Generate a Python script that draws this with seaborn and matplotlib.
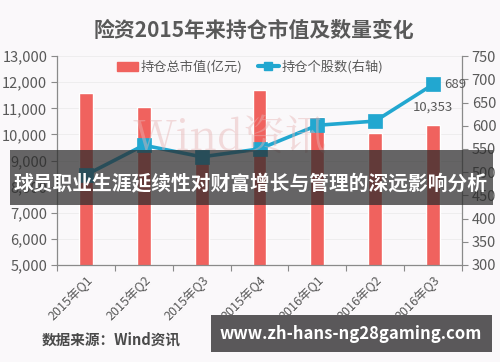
import matplotlib
matplotlib.use("Agg")
import matplotlib.pyplot as plt
import seaborn as sns
import numpy as np
import pandas as pd
from matplotlib.patches import Rectangle
from matplotlib.lines import Line2D
from matplotlib.ticker import FuncFormatter, MultipleLocator

quarters = ["2015年Q1", "2015年Q2", "2015年Q3", "2015年Q4", "2016年Q1", "2016年Q2", "2016年Q3"]
market_value = [11580, 11060, 9000, 11720, 10660, 10050, 10353]
stock_count = [494, 558, 533, 550, 601, 610, 689]

title = "险资2015年来持仓市值及数量变化"
legend_bar = "持仓总市值(亿元)"
legend_line = "持仓个股数(右轴)"
banner_text = "球员职业生涯延续性对财富增长与管理的深远影响分析"
source_text = "数据来源：Wind资讯"
site_text = "www.zh-hans-ng28gaming.com"
watermark = "Wind资讯"

sns.set_theme(style="white")
plt.rcParams['font.family'] = ['Noto Sans CJK SC', 'DejaVu Sans']

bg = "#faf8fa"
bar_color = "#f0625e"
line_color = "#22a7d0"
grey = "#595959"

fig = plt.figure(figsize=(5.0, 3.62), dpi=100)
fig.patch.set_facecolor(bg)
ax = fig.add_axes([0.114, 0.268, 0.81, 0.577])
ax.set_facecolor(bg)

df = pd.DataFrame({"q": quarters, "mv": market_value, "n": stock_count})
sns.barplot(data=df, x="q", y="mv", color=bar_color, width=0.24, ax=ax, saturation=1)
ax.set_ylim(5000, 13000)
ax.yaxis.set_major_locator(MultipleLocator(1000))
ax.yaxis.set_major_formatter(FuncFormatter(lambda v, p: f"{int(v):,}"))
ax.grid(axis="y", color="#ececec", linewidth=0.6)
ax.set_axisbelow(True)

ax2 = ax.twinx()
sns.pointplot(data=df, x="q", y="n", color=line_color, markers="s", ax=ax2,
              linewidth=2.6, markersize=8)
ax2.set_ylim(300, 750)
ax2.yaxis.set_major_locator(MultipleLocator(50))

for a in (ax, ax2):
    a.set_xlabel("")
    a.set_ylabel("")
    for s in a.spines.values():
        s.set_visible(False)
ax.spines["left"].set_visible(True)
ax.spines["bottom"].set_visible(True)
ax2.spines["right"].set_visible(True)
for s in (ax.spines["left"], ax.spines["bottom"], ax2.spines["right"]):
    s.set_color("#8a8a8a")
    s.set_linewidth(0.9)

ax.tick_params(axis="y", labelsize=10.5, labelcolor=grey, color="#8a8a8a", length=4, width=0.8, left=True, pad=3)
ax2.tick_params(axis="y", labelsize=10.5, labelcolor=grey, color="#8a8a8a", length=4, width=0.8, right=True, pad=3)
ax.set_xticks(range(len(quarters)))
ax.set_xticklabels(quarters, rotation=45, ha="right", rotation_mode="anchor", fontsize=9, color=grey)
ax.tick_params(axis="x", which="major", length=0, pad=6)
ax.set_xticks(np.arange(len(quarters) + 1) - 0.5, minor=True)
ax.tick_params(axis="x", which="minor", bottom=True, length=4, width=0.8, color="#8a8a8a")
ax.set_xlim(-0.5, len(quarters) - 0.5)

# annotations
ax2.annotate(f"{stock_count[-1]}", (len(quarters) - 1, stock_count[-1]), xytext=(8, 0),
             textcoords="offset points", va="center", ha="left", fontsize=9.5, color=grey)
ax.annotate(f"{market_value[-1]:,}", (len(quarters) - 1, market_value[-1]), xytext=(0, 8),
            textcoords="offset points", va="bottom", ha="center", fontsize=9.5, color=grey)

# watermark
fig.text(0.46, 0.615, watermark, fontsize=30, color="#e8b4b4", alpha=0.45, ha="center", va="center",
         family=['Noto Serif CJK SC', 'DejaVu Serif', 'Noto Sans CJK SC'])

# title
fig.text(0.507, 0.915, title, fontsize=15, fontweight="bold", color=grey, ha="center", va="center")

# legend
handles = [Rectangle((0, 0), 1, 1, color=bar_color),
           Line2D([0], [0], color=line_color, lw=3, marker="s", markersize=6)]
fig.legend(handles, [legend_bar, legend_line], loc="center", bbox_to_anchor=(0.5, 0.815), ncol=2,
           frameon=False, fontsize=9.5, labelcolor=grey, handlelength=1.6, handletextpad=0.2, columnspacing=1.2)

# banner
fig.patches.append(Rectangle((0.02, 1 - 205 / 362), 0.966, 55 / 362, transform=fig.transFigure,
                             facecolor="#2b2b2b", alpha=0.72, edgecolor="none", zorder=10))
fig.text(0.502, 1 - 183 / 362, banner_text, fontsize=14.2, fontweight="bold", color="white",
         ha="center", va="center", zorder=11)

# source
fig.text(0.084, 1 - 340 / 362, source_text, fontsize=10.5, fontweight="bold", color="#4a4a4a",
         ha="left", va="center")

# site box
fig.patches.append(Rectangle((211 / 500, 1 - 352 / 362), 281 / 500, 37 / 362, transform=fig.transFigure,
                             facecolor="#5a585a", edgecolor="none", zorder=10))
fig.text(351 / 500, 1 - 334 / 362, site_text, fontsize=12, fontweight="bold", color="white",
         ha="center", va="center", zorder=11)

fig.savefig("out.png", dpi=100, facecolor=bg)
